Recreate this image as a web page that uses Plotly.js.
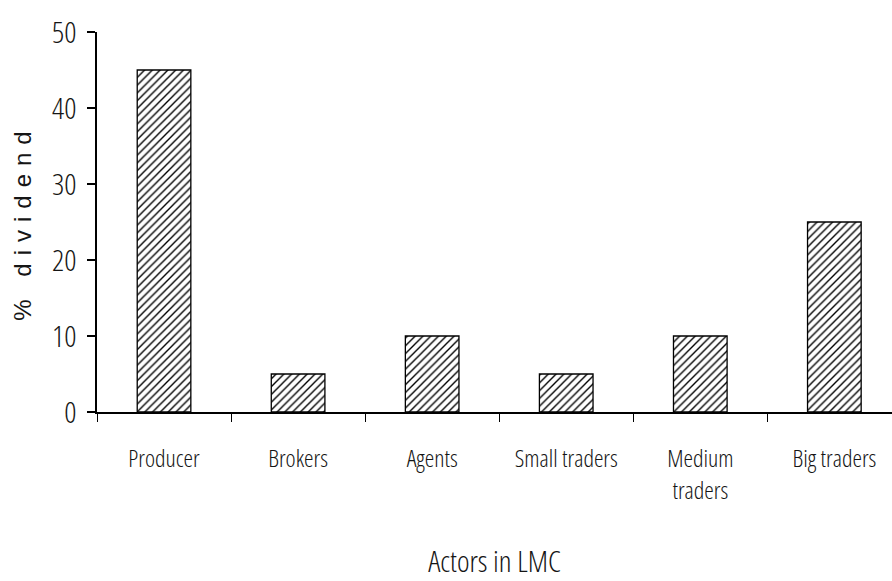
<!DOCTYPE html>
<html>
<head>
<meta charset="utf-8">
<script src="https://cdn.plot.ly/plotly-3.0.1.min.js"></script>
<style>
html,body{margin:0;padding:0;background:#fff;}
#chart{width:892px;height:581px;}
svg text{font-stretch:75% !important;}
.ytitle{font-stretch:100% !important;letter-spacing:8px !important;}
</style>
</head>
<body>
<div id="chart"></div>
<script>
const categories = ["Producer", "Brokers", "Agents", "Small traders", "Medium<br>traders", "Big traders"];
const dividend = [45, 5, 10, 5, 10, 25];
const yTicks = [0, 10, 20, 30, 40, 50];

const narrow = "Open Sans";

const trace = {
  type: "bar",
  x: categories,
  y: dividend,
  width: 0.4,
  marker: {
    color: "#ffffff",
    line: {color: "#000000", width: 1.3},
    pattern: {shape: "/", fgcolor: "#000000", bgcolor: "#ffffff", size: 5.5, solidity: 0.25}
  },
  hoverinfo: "skip"
};

const layout = {
  width: 892, height: 581,
  margin: {l: 97, r: 0, t: 32, b: 169, pad: 0},
  paper_bgcolor: "#ffffff",
  plot_bgcolor: "#ffffff",
  showlegend: false,
  xaxis: {
    type: "category",
    range: [-0.5, 5.43],
    tickson: "boundaries",
    ticks: "outside",
    ticklen: 8,
    tickwidth: 1,
    tickcolor: "#000",
    showline: true,
    linecolor: "#000",
    linewidth: 1.6,
    showgrid: false,
    zeroline: false,
    ticklabelstandoff: 25,
    tickfont: {family: narrow, size: 24, weight: 350, color: "#151515"},
    tickangle: 0,
    automargin: false,
    title: {text: "Actors in LMC", font: {family: narrow, size: 30, weight: 350, color: "#151515"}, standoff: 47}
  },
  yaxis: {
    range: [0, 50],
    tickvals: yTicks,
    ticktext: yTicks.map(String),
    ticks: "outside",
    ticklen: 8,
    tickwidth: 1.3,
    tickcolor: "#000",
    showline: true,
    linecolor: "#000",
    linewidth: 1.6,
    showgrid: false,
    zeroline: false,
    ticklabelstandoff: 5,
    tickfont: {family: narrow, size: 30, weight: 350, color: "#151515"},
    automargin: false,
    title: {text: "% dividend", font: {family: "'Liberation Sans', Arial, sans-serif", size: 24, color: "#151515"}, standoff: 13}
  }
};

Plotly.newPlot("chart", [trace], layout, {displayModeBar: false, staticPlot: true});
</script>
</body>
</html>
